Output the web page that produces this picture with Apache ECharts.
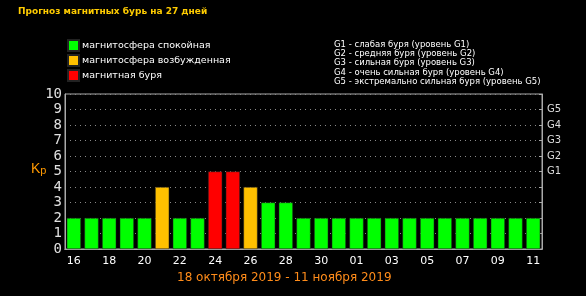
<!DOCTYPE html>
<html>
<head>
<meta charset="utf-8">
<script src="https://cdn.jsdelivr.net/npm/echarts@6/dist/echarts.min.js"></script>
<style>
  html, body { margin: 0; padding: 0; background: #000; }
  #chart { width: 586px; height: 296px; }
</style>
</head>
<body>
<div id="chart"></div>
<script>
// дни прогноза: 16 октября - 11 ноября
var days = ['16','17','18','19','20','21','22','23','24','25','26','27','28','29','30','31',
            '01','02','03','04','05','06','07','08','09','10','11'];
// индекс Kp по дням
var kp = [2,2,2,2,2,4,2,2,5,5,4,3,3,2,2,2,2,2,2,2,2,2,2,2,2,2,2];
var gLabels = ['G1','G2','G3','G4','G5'];
var gNotes = [
    'G1 - слабая буря (уровень G1)',
    'G2 - средняя буря (уровень G2)',
    'G3 - сильная буря (уровень G3)',
    'G4 - очень сильная буря (уровень G4)',
    'G5 - экстремально сильная буря (уровень G5)'
];
var names = ['магнитосфера спокойная', 'магнитосфера возбужденная', 'магнитная буря'];
var colors = ['#00ff00', '#ffc000', '#ff0000'];

// раскладываем по уровням
function level(v) { return v >= 5 ? 2 : (v >= 4 ? 1 : 0); }
var seriesList = names.map(function(n, i) {
    return {
        name: n,
        type: 'bar',
        stack: 'kp',
        barCategoryGap: '20%',
        itemStyle: { color: colors[i], borderColor: '#222', borderWidth: 0.5 },
        data: kp.map(function(v) { return level(v) === i ? v : '-'; })
    };
});

var myChart = echarts.init(document.getElementById('chart'));
var option = {
    backgroundColor: '#000',
    animation: false,
    textStyle: { fontFamily: 'DejaVu Sans' },
    title: {
        text: 'Прогноз магнитных бурь на 27 дней',
        left: 18, top: 7, padding: 0,
        textStyle: { color: '#ffcc00', fontSize: 9, fontWeight: 'bold' }
    },
    legend: {
        data: names,
        orient: 'vertical',
        left: 67, top: 39, padding: 0,
        itemWidth: 11, itemHeight: 11, itemGap: 2,
        icon: 'rect',
        textStyle: { color: '#fff', fontSize: 9.5, padding: [0, 0, 0, -2] }
    },
    color: colors,
    grid: { left: 65, right: 44, top: 94, bottom: 47, show: true, borderColor: '#aaa', borderWidth: 1 },
    xAxis: [{
        type: 'category',
        data: days,
        axisLine: { lineStyle: { color: '#aaa' } },
        axisTick: { inside: true, length: 3, interval: 0, lineStyle: { color: '#fff' } },
        axisLabel: { color: '#fff', fontSize: 11, interval: 1, margin: 7 }
    }, {
        type: 'category',
        position: 'top',
        data: days,
        axisLine: { lineStyle: { color: '#aaa' } },
        axisTick: { inside: true, length: 3, interval: 0, lineStyle: { color: '#fff' } },
        axisLabel: { show: false }
    }],
    yAxis: [{
        type: 'value',
        min: 0, max: 10, interval: 1,
        axisLine: { show: true, lineStyle: { color: '#aaa' } },
        axisTick: { show: false },
        axisLabel: { color: '#e0e0e0', fontSize: 14, margin: 3, fontFamily: 'DejaVu Sans Mono' },
        splitLine: {
            show: true,
            interval: function(i) { return i >= 5 && i <= 9; },
            lineStyle: { color: '#888', type: [1, 4] }
        }
    }, {
        type: 'value',
        position: 'right',
        min: 0, max: 10, interval: 1,
        axisLine: { show: true, lineStyle: { color: '#aaa' } },
        axisTick: { show: true, inside: true, length: 3, lineStyle: { color: '#aaa' } },
        axisLabel: {
            color: '#ddd', fontSize: 10, margin: 5,
            formatter: function(v) { return (v >= 5 && v <= 9) ? gLabels[v - 5] : ''; }
        },
        splitLine: { show: false }
    }],
    graphic: [{
        type: 'text', left: 31, top: 162,
        style: {
            text: '{k|K}{p|p}',
            rich: {
                k: { fill: '#ff9900', fontSize: 14 },
                p: { fill: '#ff9900', fontSize: 11, verticalAlign: 'bottom', padding: [4, 0, 0, 0] }
            }
        }
    }, {
        type: 'text', left: 334, top: 40,
        style: {
            text: gNotes.join('\n'),
            fill: '#fff', fontSize: 8.5, lineHeight: 9.3, fontFamily: 'DejaVu Sans'
        }
    }, {
        type: 'text', left: 177, top: 272,
        style: {
            text: '18 октября 2019 - 11 ноября 2019',
            fill: '#ff8c1a', fontSize: 12, fontFamily: 'DejaVu Sans'
        }
    }],
    series: seriesList
};
option && myChart.setOption(option);
</script>
</body>
</html>
